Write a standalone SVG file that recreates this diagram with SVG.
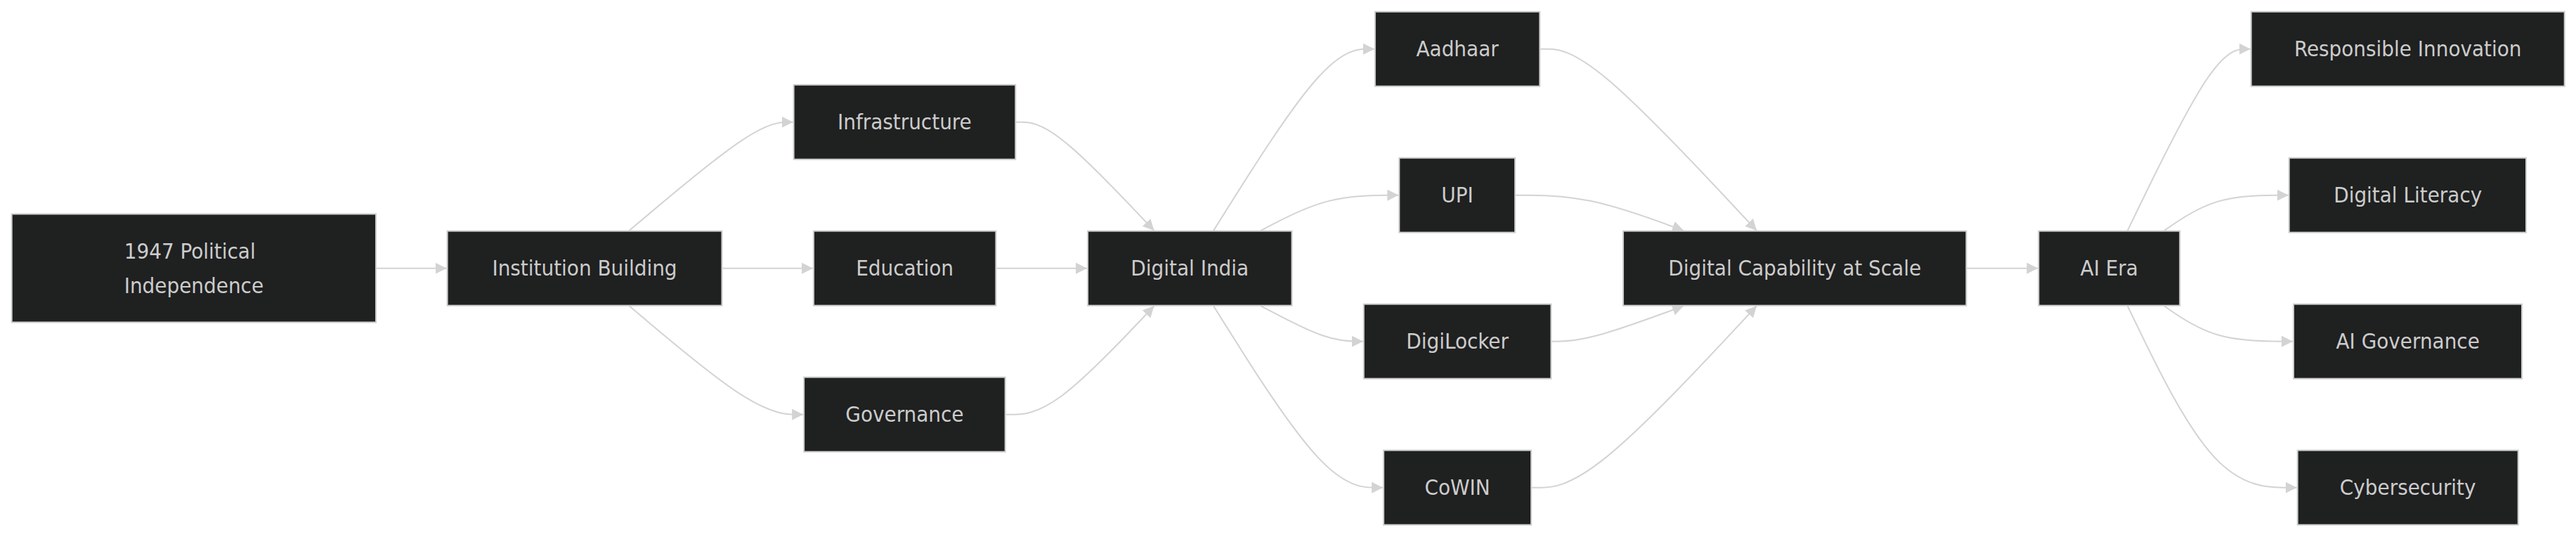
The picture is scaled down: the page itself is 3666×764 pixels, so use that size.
<svg xmlns="http://www.w3.org/2000/svg" width="3666" height="764" viewBox="0 0 3666 764">
<style>
.node rect{fill:#1f2020;stroke:#cccccc;stroke-width:2}
.node text{font-family:"DejaVu Sans Condensed","DejaVu Sans",sans-serif;font-stretch:condensed;font-size:31px;fill:#cccccc;text-anchor:middle}
.node text.l{text-anchor:start}
.edges path{fill:none;stroke:#d3d3d3;stroke-width:2;marker-end:url(#arrow)}
</style>
<defs>
<marker id="arrow" viewBox="0 0 10 10" refX="10" refY="5" markerWidth="8" markerHeight="8" markerUnits="strokeWidth" orient="auto">
<path d="M0,0 L10,5 L0,10 z" fill="#d3d3d3"/>
</marker>
</defs>
<rect x="0" y="0" width="3666" height="764" fill="#ffffff"/>
<g id="connectors" class="edges">
<path d="M536,381.7 L635.6,381.7"/>
<path d="M895.5,328.1 L925.98,302.37 C956.47,276.63 1017.43,225.17 1056.28,199.43 C1095.13,173.7 1111.87,173.7 1120.23,173.7 L1128.6,173.7"/>
<path d="M1028.4,381.7 L1156.9,381.7"/>
<path d="M895.5,435.3 L925.98,461.03 C956.47,486.77 1017.43,538.23 1058.7,563.97 C1099.97,589.7 1121.53,589.7 1132.32,589.7 L1143.1,589.7"/>
<path d="M1446.2,173.7 L1454.53,173.7 C1462.87,173.7 1479.53,173.7 1512.25,199.43 C1545,225.17 1593.71,276.63 1618.09,302.37 L1642.47,328.1"/>
<path d="M1418.3,381.7 L1547,381.7"/>
<path d="M1431.6,589.7 L1442.37,589.7 C1453.13,589.7 1474.67,589.7 1509.81,563.97 C1545,538.23 1593.71,486.77 1618.09,461.03 L1642.47,435.3"/>
<path d="M1726.97,328.1 L1754.06,285.03 C1781.15,241.97 1835.32,155.83 1873.48,112.77 C1911.63,69.7 1933.77,69.7 1944.83,69.7 L1955.9,69.7"/>
<path d="M1794.4,328.1 L1810.25,319.7 C1826.1,311.3 1857.8,294.5 1890.45,286.1 C1923.1,277.7 1956.7,277.7 1973.5,277.7 L1990.3,277.7"/>
<path d="M1794.4,435.3 L1810.25,443.7 C1826.1,452.1 1857.8,468.9 1882.03,477.3 C1906.27,485.7 1923.03,485.7 1931.42,485.7 L1939.8,485.7"/>
<path d="M1726.97,435.3 L1754.06,478.37 C1781.15,521.43 1835.32,607.57 1875.51,650.63 C1915.7,693.7 1941.9,693.7 1955,693.7 L1968.1,693.7"/>
<path d="M2192.3,69.7 L2203.32,69.7 C2214.33,69.7 2236.37,69.7 2287.65,112.77 C2338.93,155.83 2419.47,241.97 2459.73,285.03 L2500,328.1"/>
<path d="M2157.1,277.7 L2173.98,277.7 C2190.87,277.7 2224.63,277.7 2264.45,286.1 C2304.27,294.5 2350.13,311.3 2373.07,319.7 L2396,328.1"/>
<path d="M2208.4,485.7 L2216.73,485.7 C2225.07,485.7 2241.73,485.7 2273,477.3 C2304.27,468.9 2350.13,452.1 2373.07,443.7 L2396,435.3"/>
<path d="M2180.1,693.7 L2193.15,693.7 C2206.2,693.7 2232.3,693.7 2285.62,650.63 C2338.93,607.57 2419.47,521.43 2459.73,478.37 L2500,435.3"/>
<path d="M2799.3,381.7 L2900.3,381.7"/>
<path d="M3027.77,328.1 L3048.68,285.03 C3069.58,241.97 3111.39,155.83 3140.55,112.77 C3169.7,69.7 3186.2,69.7 3194.45,69.7 L3202.7,69.7"/>
<path d="M3079.81,328.1 L3092.04,319.7 C3104.27,311.3 3128.74,294.5 3158.22,286.1 C3187.7,277.7 3222.2,277.7 3239.45,277.7 L3256.7,277.7"/>
<path d="M3079.81,435.3 L3092.04,443.7 C3104.27,452.1 3128.74,468.9 3159.27,477.3 C3189.8,485.7 3226.4,485.7 3244.7,485.7 L3263,485.7"/>
<path d="M3027.77,435.3 L3048.68,478.37 C3069.58,521.43 3111.39,607.57 3151.55,650.63 C3191.7,693.7 3230.2,693.7 3249.45,693.7 L3268.7,693.7"/>
</g>
<g id="n1947" class="node"><rect x="16.7" y="304.5" width="518.3" height="154"/><text class="l" x="176.7" y="367.7">1947 Political</text><text class="l" x="176.7" y="416.7">Independence</text></g>
<g id="institution" class="node"><rect x="636.6" y="328.7" width="390.8" height="106"/><text x="832" y="391.7">Institution Building</text></g>
<g id="infrastructure" class="node"><rect x="1129.6" y="120.7" width="315.6" height="106"/><text x="1287.4" y="183.7">Infrastructure</text></g>
<g id="education" class="node"><rect x="1157.9" y="328.7" width="259.4" height="106"/><text x="1287.6" y="391.7">Education</text></g>
<g id="governance" class="node"><rect x="1144.1" y="536.7" width="286.5" height="106"/><text x="1287.4" y="599.7">Governance</text></g>
<g id="digitalindia" class="node"><rect x="1548" y="328.7" width="290.5" height="106"/><text x="1693.25" y="391.7">Digital India</text></g>
<g id="aadhaar" class="node"><rect x="1956.9" y="16.7" width="234.4" height="106"/><text x="2074.1" y="79.7">Aadhaar</text></g>
<g id="upi" class="node"><rect x="1991.3" y="224.7" width="164.8" height="106"/><text x="2074.1" y="287.7">UPI</text></g>
<g id="digilocker" class="node"><rect x="1940.8" y="432.7" width="266.6" height="106"/><text x="2074.1" y="495.7">DigiLocker</text></g>
<g id="cowin" class="node"><rect x="1969.1" y="640.7" width="210" height="106"/><text x="2074.1" y="703.7">CoWIN</text></g>
<g id="dcs" class="node"><rect x="2310" y="328.7" width="488.3" height="106"/><text x="2554.15" y="391.7">Digital Capability at Scale</text></g>
<g id="aiera" class="node"><rect x="2901.3" y="328.7" width="200.9" height="106"/><text x="3001.75" y="391.7">AI Era</text></g>
<g id="responsible" class="node"><rect x="3203.7" y="16.7" width="446" height="106"/><text x="3426.7" y="79.7">Responsible Innovation</text></g>
<g id="literacy" class="node"><rect x="3257.7" y="224.7" width="337.3" height="106"/><text x="3426.7" y="287.7">Digital Literacy</text></g>
<g id="aigov" class="node"><rect x="3264" y="432.7" width="325" height="106"/><text x="3426.7" y="495.7">AI Governance</text></g>
<g id="cyber" class="node"><rect x="3269.7" y="640.7" width="314" height="106"/><text x="3426.7" y="703.7">Cybersecurity</text></g>
</svg>
